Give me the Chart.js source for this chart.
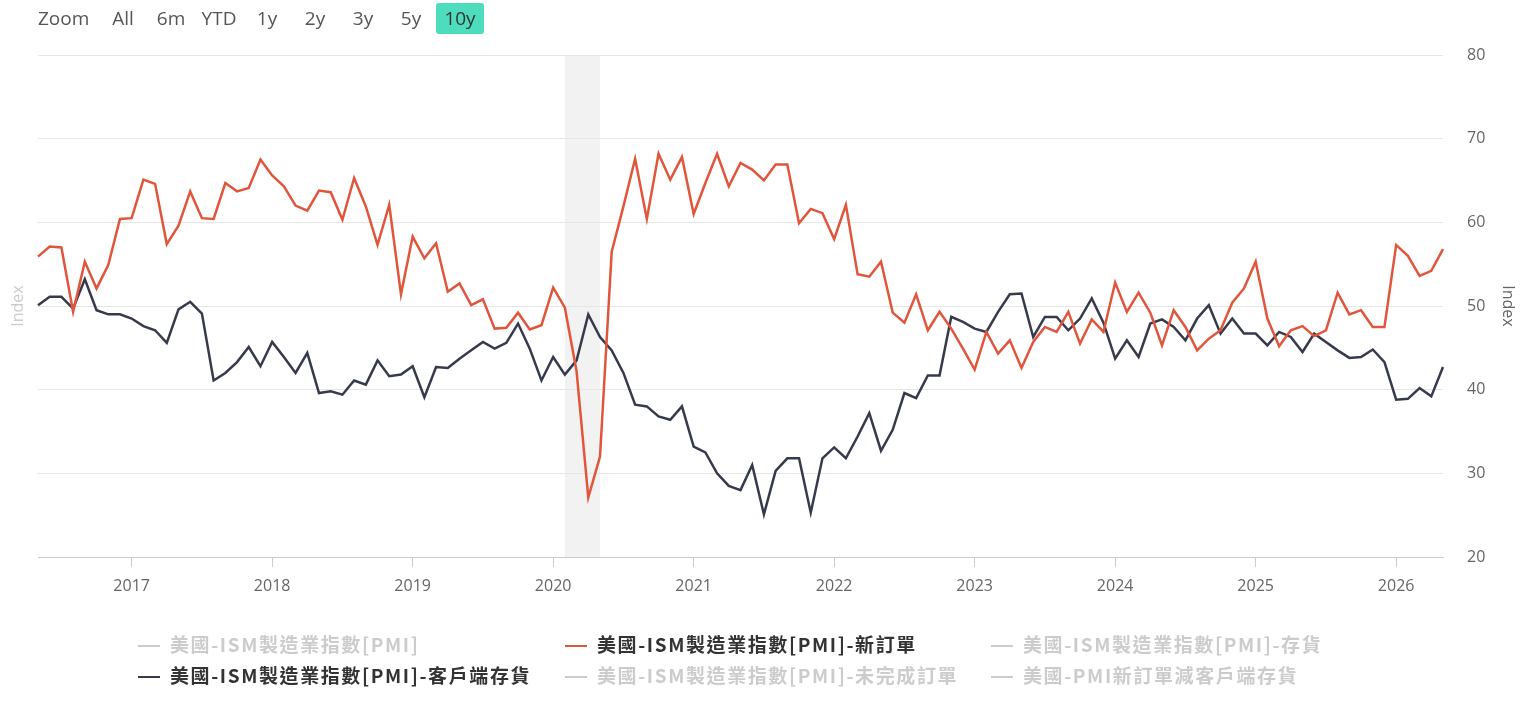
<!DOCTYPE html>
<html>
<head>
<meta charset="utf-8">
<script src="https://cdn.jsdelivr.net/npm/chart.js@4.4.1/dist/chart.umd.min.js"></script>
<style>
  html, body { margin: 0; padding: 0; width: 1521px; height: 716px; overflow: hidden; background: #fff; }
  #wrap { position: absolute; left: 0; top: 0; width: 1521px; height: 716px; }
  .rs { position: absolute; top: 3px; height: 31px; line-height: 31px; font-family: "Open Sans", sans-serif; font-size: 19px; color: #555; text-align: center; }
  .btn { width: 48px; border-radius: 3px; }
  .btn.sel { background: #4ddcbc; color: #333; }
  .lg { position: absolute; height: 24px; line-height: 24px; font-family: "Noto Sans CJK TC", "Noto Sans", sans-serif; font-weight: bold; font-size: 19px; letter-spacing: 1.6px; white-space: nowrap; }
  .lg .sym { display: inline-block; width: 22px; height: 2px; vertical-align: middle; margin-right: 10px; position: relative; top: -1px; }
</style>
</head>
<body>
<div id="wrap"><canvas id="c" width="1521" height="716"></canvas></div>
<div id="rs"></div>
<div id="legend"></div>
<script>
// ---------- data ----------
const startYear = 2016, startMonth = 5, monthCount = 121;
const months = [];
for (let i = 0; i < monthCount; i++) {
  const m = startMonth - 1 + i;
  const y = startYear + Math.floor(m / 12);
  const mm = (m % 12) + 1;
  months.push(y + '-' + (mm < 10 ? '0' + mm : '' + mm));
}

const newOrders = [
  55.9, 57.1, 57.0, 49.3, 55.3, 52.1, 54.9, 60.4,
  60.5, 65.1, 64.6, 57.4, 59.6, 63.7, 60.5, 60.4, 64.7, 63.7, 64.1, 67.5,
  65.6, 64.3, 62.0, 61.4, 63.8, 63.6, 60.3, 65.3, 61.9, 57.3, 62.1, 51.4,
  58.3, 55.7, 57.5, 51.7, 52.7, 50.1, 50.8, 47.3, 47.4, 49.2, 47.2, 47.7,
  52.2, 49.8, 42.2, 27.1, 32.0, 56.5, 61.9, 67.6, 60.4, 68.2, 65.1, 67.8,
  61.0, 64.7, 68.2, 64.3, 67.1, 66.3, 65.0, 66.9, 66.9, 59.9, 61.6, 61.1,
  58.0, 62.1, 53.8, 53.5, 55.3, 49.2, 48.0, 51.4, 47.1, 49.3, 47.3, 44.9,
  42.4, 46.9, 44.3, 45.9, 42.6, 45.7, 47.5, 46.9, 49.3, 45.5, 48.4, 46.9,
  52.8, 49.3, 51.6, 49.2, 45.3, 49.5, 47.5, 44.7, 46.1, 47.1, 50.4, 52.1,
  55.3, 48.5, 45.2, 47.1, 47.6, 46.4, 47.1, 51.6, 49.0, 49.5, 47.5, 47.5,
  57.3, 56.0, 53.6, 54.2, 56.8
];

const customersInventories = [
  50.1, 51.1, 51.1, 49.7, 53.2, 49.5, 49.0, 49.0,
  48.5, 47.6, 47.1, 45.6, 49.6, 50.5, 49.1, 41.1, 42.0, 43.3, 45.1, 42.8,
  45.7, 43.9, 42.0, 44.4, 39.6, 39.8, 39.4, 41.1, 40.6, 43.5, 41.6, 41.8,
  42.8, 39.1, 42.7, 42.6, 43.7, 44.7, 45.7, 44.9, 45.6, 47.9, 44.9, 41.1,
  43.9, 41.8, 43.5, 49.0, 46.3, 44.7, 42.0, 38.2, 38.0, 36.8, 36.4, 38.0,
  33.2, 32.5, 30.0, 28.5, 28.0, 31.0, 25.1, 30.3, 31.8, 31.8, 25.3, 31.8,
  33.1, 31.8, 34.4, 37.2, 32.7, 35.2, 39.6, 39.0, 41.7, 41.7, 48.7, 48.1,
  47.3, 46.9, 49.3, 51.4, 51.5, 46.3, 48.7, 48.7, 47.1, 48.5, 50.9, 48.0,
  43.7, 45.9, 43.9, 47.9, 48.4, 47.5, 45.9, 48.5, 50.1, 46.7, 48.5, 46.7,
  46.7, 45.3, 46.9, 46.3, 44.5, 46.7, 45.7, 44.7, 43.8, 43.9, 44.8, 43.3,
  38.8, 38.9, 40.2, 39.2, 42.7
];

const yTicks = { min: 20, max: 80, step: 10 };
const shadeFrom = '2020-02', shadeTo = '2020-05';

const rangeButtons = ['All', '6m', 'YTD', '1y', '2y', '3y', '5y', '10y'];
const selectedRange = '10y';

const legendItems = [
  { name: '美國-ISM製造業指數[PMI]', color: '#cccccc', active: false, col: 0, row: 0 },
  { name: '美國-ISM製造業指數[PMI]-新訂單', color: '#e1553c', active: true, col: 1, row: 0 },
  { name: '美國-ISM製造業指數[PMI]-存貨', color: '#cccccc', active: false, col: 2, row: 0 },
  { name: '美國-ISM製造業指數[PMI]-客戶端存貨', color: '#363a4b', active: true, col: 0, row: 1 },
  { name: '美國-ISM製造業指數[PMI]-未完成訂單', color: '#cccccc', active: false, col: 1, row: 1 },
  { name: '美國-PMI新訂單減客戶端存貨', color: '#cccccc', active: false, col: 2, row: 1 }
];

// ---------- range selector ----------
(function () {
  const rs = document.getElementById('rs');
  const z = document.createElement('div');
  z.className = 'rs'; z.style.left = '38px'; z.textContent = 'Zoom';
  rs.appendChild(z);
  rangeButtons.forEach((b, i) => {
    const d = document.createElement('div');
    d.className = 'rs btn' + (b === selectedRange ? ' sel' : '');
    d.style.left = (99 + i * 48 + (b === selectedRange ? 1 : 0)) + 'px';
    d.textContent = b;
    rs.appendChild(d);
  });
})();

// ---------- legend ----------
(function () {
  const lg = document.getElementById('legend');
  const colX = [138, 565, 991];
  const rowY = [632, 663];
  legendItems.forEach(it => {
    const d = document.createElement('div');
    d.className = 'lg';
    d.style.left = colX[it.col] + 'px';
    d.style.top = rowY[it.row] + 'px';
    d.style.color = it.active ? '#333333' : '#cccccc';
    const s = document.createElement('span');
    s.className = 'sym';
    s.style.background = it.color;
    d.appendChild(s);
    d.appendChild(document.createTextNode(it.name));
    lg.appendChild(d);
  });
})();

// ---------- chart ----------
const shadePlugin = {
  id: 'shade',
  beforeDraw(chart) {
    const xs = chart.scales.x, area = chart.chartArea, ctx = chart.ctx;
    const a = xs.getPixelForValue(months.indexOf(shadeFrom));
    const b = xs.getPixelForValue(months.indexOf(shadeTo));
    ctx.save();
    ctx.fillStyle = '#f2f2f2';
    ctx.fillRect(a, area.top, b - a, area.bottom - area.top);
    ctx.restore();
  }
};

new Chart(document.getElementById('c'), {
  type: 'line',
  data: {
    labels: months,
    datasets: [
      { label: '美國-ISM製造業指數[PMI]-新訂單', data: newOrders, borderColor: '#e1553c', borderWidth: 2.5, pointRadius: 0, tension: 0, yAxisID: 'y' },
      { label: '美國-ISM製造業指數[PMI]-客戶端存貨', data: customersInventories, borderColor: '#363a4b', borderWidth: 2.5, pointRadius: 0, tension: 0, yAxisID: 'y' }
    ]
  },
  options: {
    responsive: false,
    animation: false,
    layout: { padding: { top: 55, left: 0, right: 0, bottom: 0 } },
    plugins: { legend: { display: false }, tooltip: { enabled: false } },
    scales: {
      x: {
        type: 'category',
        offset: false,
        afterFit(s) { s.height = 716 - 557; },
        grid: { display: true, drawOnChartArea: false, drawTicks: true, tickLength: 10, color: '#cccccc' },
        border: { display: true, color: '#cccccc', width: 1 },
        ticks: {
          autoSkip: false, maxRotation: 0, minRotation: 0, padding: 10,
          color: '#666666', font: { family: 'Open Sans', size: 16 },
          callback(v) {
            const l = this.getLabelForValue(v);
            return l.slice(5) === '01' ? l.slice(0, 4) : null;
          }
        }
      },
      y: {
        position: 'right',
        min: yTicks.min, max: yTicks.max,
        afterFit(s) { s.width = 1521 - 1443; },
        grid: { color: '#e6e6e6', drawTicks: false },
        border: { display: false },
        ticks: { stepSize: yTicks.step, padding: 24, color: '#666666', font: { family: 'Open Sans', size: 16 } },
        title: { display: true, text: 'Index', color: '#666666', font: { family: 'Open Sans', size: 16 }, padding: { top: 4, bottom: 0 } }
      },
      y2: {
        position: 'left',
        min: yTicks.min, max: yTicks.max,
        afterFit(s) { s.width = 38; },
        grid: { display: false },
        border: { display: false },
        ticks: { display: false },
        title: { display: true, text: 'Index', color: '#cccccc', font: { family: 'Open Sans', size: 16 }, padding: { top: 9, bottom: 0 } }
      }
    }
  },
  plugins: [shadePlugin]
});
</script>
</body>
</html>
